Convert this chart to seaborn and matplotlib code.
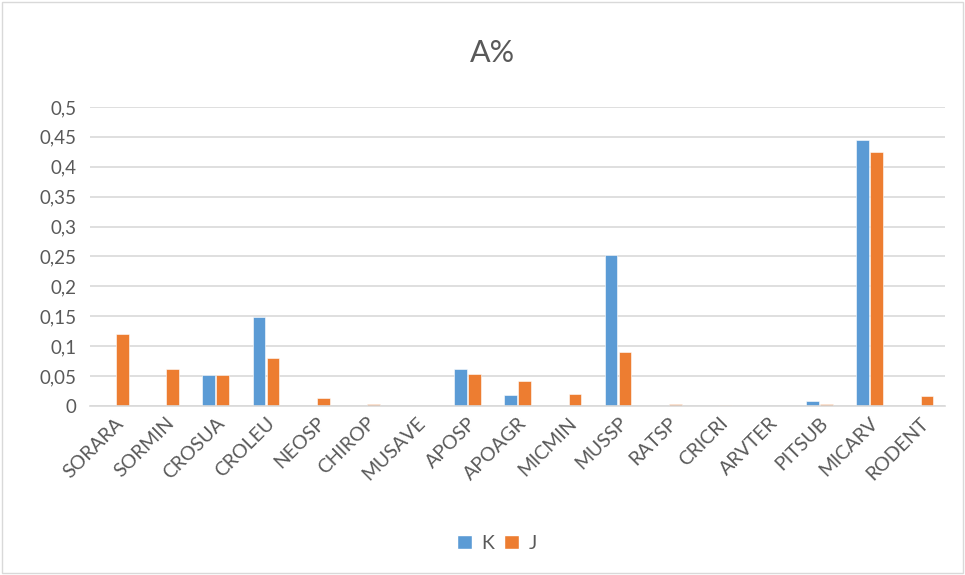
import matplotlib
matplotlib.use("Agg")
import matplotlib.pyplot as plt
import matplotlib.patches as mpatches
from matplotlib.ticker import FuncFormatter, MultipleLocator
import seaborn as sns
import pandas as pd

categories = ["SORARA", "SORMIN", "CROSUA", "CROLEU", "NEOSP", "CHIROP", "MUSAVE",
              "APOSP", "APOAGR", "MICMIN", "MUSSP", "RATSP", "CRICRI", "ARVTER",
              "PITSUB", "MICARV", "RODENT"]
k_values = [0.0005, 0.0, 0.051, 0.149, 0.0, 0.0005, 0.0, 0.062, 0.019, 0.0005,
            0.252, 0.0, 0.0, 0.0, 0.009, 0.444, 0.0]
j_values = [0.120, 0.061, 0.051, 0.081, 0.013, 0.0025, 0.0005, 0.054, 0.041, 0.020,
            0.090, 0.004, 0.0015, 0.0, 0.0025, 0.425, 0.017]
series = ["K", "J"]
colors = ["#5B9BD5", "#ED7D31"]

df = pd.DataFrame({
    "cat": categories * 2,
    "value": k_values + j_values,
    "series": ["K"] * len(categories) + ["J"] * len(categories),
})

sns.set_theme(style="white")
plt.rcParams["font.family"] = ["Lato", "DejaVu Sans"]
text_color = "#595959"
grid_color = "#D9D9D9"

fig = plt.figure(figsize=(9.65, 5.75), dpi=100)
ax = fig.add_axes([0.0933, 0.294, 0.886, 0.52])

sns.barplot(data=df, x="cat", y="value", hue="series", hue_order=series,
            palette=colors, saturation=1, width=0.56, gap=0.1, ax=ax, legend=False,
            edgecolor="white", linewidth=0.4)

ax.set_ylim(0, 0.5)
ax.set_xlim(-0.5, len(categories) - 0.5)
ax.yaxis.set_major_locator(MultipleLocator(0.05))
ax.yaxis.set_major_formatter(FuncFormatter(
    lambda v, _: "0" if abs(v) < 1e-9 else f"{v:.2f}".rstrip("0").replace(".", ",")))
ax.grid(axis="y", color=grid_color, linewidth=1.2)
ax.set_axisbelow(True)
for s in ["top", "right", "left"]:
    ax.spines[s].set_visible(False)
ax.spines["bottom"].set_color(grid_color)
ax.spines["bottom"].set_linewidth(1.2)
ax.tick_params(axis="both", length=0, colors=text_color)
ax.tick_params(axis="y", pad=10, labelsize=13.5)
ax.tick_params(axis="x", pad=6, labelsize=14)
plt.setp(ax.get_xticklabels(), rotation=45, ha="right", rotation_mode="anchor")
ax.set_xlabel("")
ax.set_ylabel("")

fig.text(0.51, 0.908, "A%", ha="center", va="center", fontsize=22, color=text_color)

handles = [mpatches.Patch(facecolor=c, label=s) for s, c in zip(series, colors)]
fig.legend(handles=handles, loc="center", bbox_to_anchor=(0.515, 0.055), ncol=2,
           frameon=False, fontsize=14, labelcolor=text_color,
           handlelength=0.75, handleheight=0.75, handletextpad=0.5, columnspacing=0.5)

fig.patches.append(mpatches.Rectangle((0.002, 0.003), 0.996, 0.994, transform=fig.transFigure,
                                      fill=False, edgecolor=grid_color, linewidth=1))

fig.savefig("out.png", dpi=100, facecolor="white")
